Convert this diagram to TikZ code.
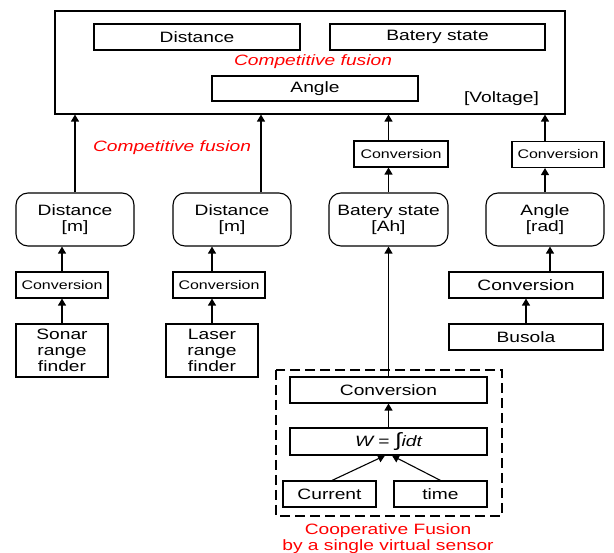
\documentclass[tikz,border=0pt]{standalone}
\usepackage{fontspec}
\setmainfont{Liberation Sans}[FakeStretch=1.28]
\usetikzlibrary{arrows.meta}
\begin{document}
\begin{tikzpicture}[x=1pt,y=-1pt,
  font=\fontsize{15}{16}\selectfont,
  box/.style={draw, line width=1.1pt, inner sep=0pt, align=center},
  rbox/.style={box, rounded corners=12pt},
  small/.style={font=\fontsize{12.5}{14}\selectfont},
  arr/.style={line width=1.1pt, -{Triangle[width=8pt,length=7pt]}},
  redlab/.style={text=red, inner sep=0pt, align=center},
  sz/.style n args={2}{minimum width=#1pt, minimum height=#2pt}]
\useasboundingbox (0,0) rectangle (614,553);

% fused output block
\node[box, sz={510}{103}] (top) at (310,62.5) {};
\node[box, sz={206}{26}] (tdist) at (197,37) {Distance};
\node[box, sz={215}{26}] (tbat) at (437.5,37) {Batery state};
\node[box, sz={206}{25}] (tang) at (315,88.5) {Angle};
\node[redlab, font=\fontsize{15}{16}\selectfont\itshape] (comp1) at (313,62) {Competitive fusion};
\node[inner sep=0pt] (volt) at (501.5,99) {[Voltage]};
\node[redlab, font=\fontsize{15}{16}\selectfont\itshape] (comp2) at (172,148) {Competitive fusion};

% sonar column
\node[rbox, sz={118}{53}] (dist1) at (75,219.5) {Distance\\{}[m]};
\node[box, small, sz={92}{26}] (conv1) at (62,285) {Conversion};
\node[box, sz={92}{53}] (sonar) at (62,350.5) {Sonar\\range\\finder};

% laser column
\node[rbox, sz={118}{53}] (dist2) at (232,219.5) {Distance\\{}[m]};
\node[box, small, sz={92}{26}] (conv2) at (219,285) {Conversion};
\node[box, sz={92}{53}] (laser) at (212,350.5) {Laser\\range\\finder};

% battery column
\node[box, small, sz={94}{26}] (conv3) at (401,154) {Conversion};
\node[rbox, sz={119}{53}] (bat) at (388.5,219.5) {Batery state\\{}[Ah]};

% compass column
\node[box, small, sz={92}{26}] (conv4) at (558,154.5) {Conversion};
\node[rbox, sz={118}{53}] (ang) at (545,219.5) {Angle\\{}[rad]};
\node[box, sz={154}{26}] (conv5) at (526,285) {Conversion};
\node[box, sz={154}{26}] (busola) at (526,337) {Busola};

% virtual battery sensor
\draw[line width=1.1pt, dash pattern=on 10pt off 5pt] (276,370) rectangle (502,516);
\node[box, sz={197}{26}] (conv6) at (388.5,390) {Conversion};
\node[box, sz={197}{27}] (wint) at (388.5,441.5) {\itshape W {\upshape =} {\upshape\fontsize{19}{16}\selectfont ∫}idt};
\node[box, sz={93}{26}] (cur) at (329.5,494) {Current};
\node[box, sz={93}{26}] (time) at (440.5,494) {time};
\node[redlab] (coop) at (388,538.5) {Cooperative Fusion\\by a single virtual sensor};

% connectors
\draw[arr] (dist1.north) -- (dist1.north |- top.south);
\draw[arr] ([xshift=29pt]dist2.north) -- ([xshift=29pt]dist2.north |- top.south);
\draw[arr] (conv3.north -| bat.north) -- (bat.north |- top.south);
\draw[arr] (bat.north) -- (bat.north |- conv3.south);
\draw[arr] (ang.north |- conv4.north) -- (ang.north |- top.south);
\draw[arr] (ang.north) -- (ang.north |- conv4.south);
\draw[arr] (conv1.north) -- (conv1.north |- dist1.south);
\draw[arr] (sonar.north) -- (conv1.south);
\draw[arr] (laser.north) -- (laser.north |- conv2.south);
\draw[arr] (laser.north |- conv2.north) -- (laser.north |- dist2.south);
\draw[arr] ([xshift=24pt]conv5.north) -- ([xshift=24pt]conv5.north |- ang.south);
\draw[arr] (busola.north) -- (conv5.south);
\draw[arr] (conv6.north) -- (bat.south);
\draw[arr] (wint.north) -- (conv6.south);
\draw[arr] ([xshift=2.5pt]cur.north) -- ([xshift=-3.5pt]wint.south);
\draw[arr] (time.north) -- ([xshift=3.5pt]wint.south);
\end{tikzpicture}
\end{document}
